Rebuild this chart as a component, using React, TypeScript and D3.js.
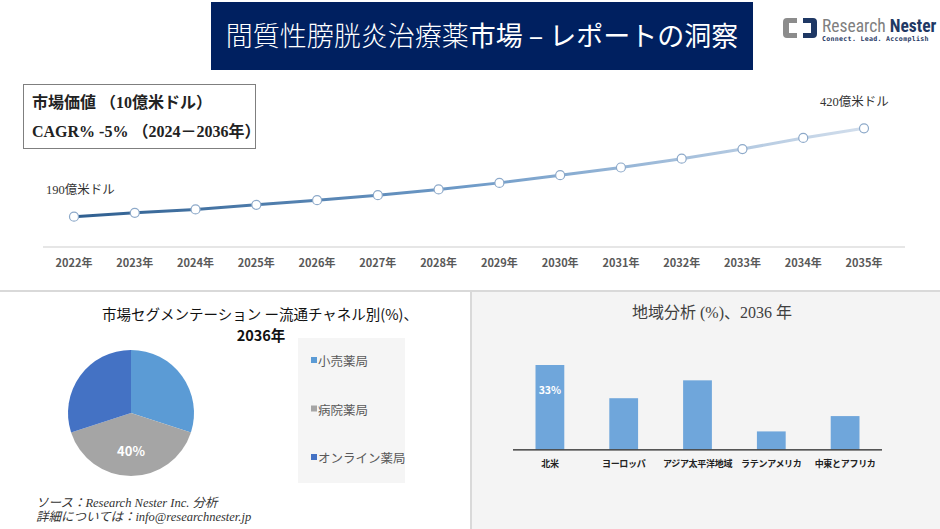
import React from 'react';
import * as d3 from 'd3';

const years = ['2022年','2023年','2024年','2025年','2026年','2027年','2028年','2029年','2030年','2031年','2032年','2033年','2034年','2035年'];
const marketValues = [190, 200, 209, 221, 233, 246, 261, 278, 298, 318, 341, 366, 395, 420];
const channelLabels = ['小売薬局', '病院薬局', 'オンライン薬局'];
const channelShares = [30, 40, 30];
const regions = ['北米', 'ヨーロッパ', 'アジア太平洋地域', 'ラテンアメリカ', '中東とアフリカ'];
const regionShares = [33, 20, 27, 7, 13];

const SANS = "'Noto Sans CJK JP', 'Noto Sans', sans-serif";
const SERIF = "'Liberation Serif', 'DejaVu Serif', 'Noto Sans CJK JP', serif";

export default function App() {
  const W = 940, H = 529;
  // line chart
  const x = d3.scalePoint<string>().domain(years).range([74, 864]);
  const y = d3.scaleLinear().domain([190, 420]).range([216.7, 128.3]);
  const line = d3.line<number>().x((_, i) => x(years[i]) as number).y(d => y(d));
  // pie
  const pieColors = ['#5B9BD5', '#A5A5A5', '#4472C4'];
  const pie = d3.pie<number>().sort(null).value(d => d)(channelShares);
  const arc = d3.arc<d3.PieArcDatum<number>>().innerRadius(0).outerRadius(63);
  const labelArc = d3.arc<d3.PieArcDatum<number>>().innerRadius(38).outerRadius(38);
  // bars
  const xb = d3.scaleBand<string>().domain(regions).range([513, 882]).paddingInner(0.61).paddingOuter(0.305);
  const yb = d3.scaleLinear().domain([0, 33]).range([449.3, 365]);

  return (
    <svg width={W} height={H} style={{ position: 'absolute', left: 0, top: 0, background: '#fff' }}>
      <defs>
        <linearGradient id="lg" gradientUnits="userSpaceOnUse" x1={74} y1={0} x2={864} y2={0}>
          <stop offset="0" stopColor="#2F5F90" />
          <stop offset="0.5" stopColor="#6F9BC8" />
          <stop offset="1" stopColor="#D2DEEC" />
        </linearGradient>
      </defs>
      <rect x={0} y={0} width={W} height={H} fill="#fff" />
      {/* header */}
      <rect x={211} y={2} width={542} height={68} fill="#002060" />
      <text x={482} y={46} textAnchor="middle" fill="#fff" fontSize={27} fontFamily={SANS}>
        <tspan fontFamily={SERIF} fontWeight={300}>間質性膀胱炎治療薬</tspan>
        <tspan>市場 – レポートの洞察</tspan>
      </text>
      {/* logo */}
      <g>
        <path d="M797,18 h-10 a4,4 0 0 0 -4,4 v12 a4,4 0 0 0 4,4 h10 v-5 h-8 v-10 h8 z" fill="#8C8C8C" />
        <path d="M803,18 h10 a4,4 0 0 1 4,4 v12 a4,4 0 0 1 -4,4 h-10 v-5 h8 v-10 h-8 z" fill="#1F3864" />
        <text x={822} y={32} fontSize={17.5} fontFamily="'Roboto Condensed', 'Liberation Sans Narrow', 'Roboto', sans-serif" fill="#7F7F7F">
          Research <tspan fill="#1F3864" fontWeight={700}>Nester</tspan>
        </text>
        <text x={822} y={41} fontSize={6.6} fontFamily="'DejaVu Sans Mono', monospace" fill="#1F3864" fontWeight={700} letterSpacing={0.3}>
          Connect. Lead. Accomplish
        </text>
      </g>
      {/* value box */}
      <rect x={23.5} y={84.5} width={232} height={64} fill="#fff" stroke="#7F7F7F" strokeWidth={1} />
      <text x={32} y={108} fontSize={16} fontWeight={700} fontFamily={SERIF} fill="#222">市場価値 （10億米ドル）</text>
      <text x={32} y={137} fontSize={16} fontWeight={700} fontFamily={SERIF} fill="#222">CAGR% -5% （2024－2036年）</text>
      {/* axis line */}
      <line x1={43} x2={905} y1={247} y2={247} stroke="#E6E6E6" strokeWidth={2} />
      {years.map(yr => (
        <text key={yr} x={x(yr)} y={267} textAnchor="middle" fontSize={11} fontWeight={700} fill="#595959" fontFamily={SANS}>{yr}</text>
      ))}
      <path d={line(marketValues) || ''} fill="none" stroke="url(#lg)" strokeWidth={3} />
      {marketValues.map((v, i) => (
        <circle key={i} cx={x(years[i])} cy={y(v)} r={4.5} fill="#fff" stroke="#8DA9C9" strokeWidth={1.2} />
      ))}
      <text x={46} y={194} fontSize={12.5} fontFamily={SERIF} fill="#333">{marketValues[0]}億米ドル</text>
      <text x={820} y={106} fontSize={12.5} fontFamily={SERIF} fill="#333">{marketValues[marketValues.length - 1]}億米ドル</text>
      {/* bottom panels */}
      <rect x={471} y={291} width={469} height={238} fill="#F4F4F4" />
      <line x1={0} x2={940} y1={291} y2={291} stroke="#D9D9D9" strokeWidth={2} />
      <line x1={471} x2={471} y1={291} y2={529} stroke="#D9D9D9" strokeWidth={2} />
      {/* pie panel */}
      <text x={260} y={320} textAnchor="middle" fontSize={14.5} fontFamily={SANS} fill="#111">市場セグメンテーション ー流通チャネル別(%)、</text>
      <text x={261} y={341} textAnchor="middle" fontSize={14.5} fontWeight={700} fontFamily={SANS} fill="#111">2036年</text>
      <g transform="translate(131,413)">
        {pie.map((p, i) => (
          <path key={i} d={arc(p) || ''} fill={pieColors[i]} />
        ))}
        {pie.map((p, i) => i === 1 ? (
          <text key={'l' + i} x={labelArc.centroid(p)[0]} y={labelArc.centroid(p)[1]} dy={5} textAnchor="middle" fill="#fff" fontSize={13} fontWeight={700} fontFamily={SANS}>{channelShares[i]}%</text>
        ) : null)}
      </g>
      <rect x={298} y={338} width={107} height={145} fill="#F5F5F5" />
      {channelLabels.map((c, i) => (
        <g key={c}>
          <rect x={311} y={358 + i * 48.5 - 1} width={6} height={6} fill={pieColors[i]} />
          <text x={318} y={366 + i * 48.5} fontSize={12.5} fill="#595959" fontFamily={SANS}>{c}</text>
        </g>
      ))}
      <text x={36} y={507} fontSize={12.5} fontStyle="italic" fontFamily={SERIF} fill="#333">ソース：Research Nester Inc. 分析</text>
      <text x={36} y={521} fontSize={12.5} fontStyle="italic" fontFamily={SERIF} fill="#333">詳細については：info@researchnester.jp</text>
      {/* bar panel */}
      <text x={712} y={318} textAnchor="middle" fontSize={16} fontFamily={SERIF} fill="#404040">地域分析 (%)、2036 年</text>
      {regions.map((r, i) => (
        <rect key={r} x={xb(r)} y={yb(regionShares[i])} width={xb.bandwidth()} height={yb(0) - yb(regionShares[i])} fill="#6FA6DB" />
      ))}
      <line x1={513} x2={882} y1={449.8} y2={449.8} stroke="#222" strokeWidth={1.3} />
      <text x={(xb(regions[0]) as number) + xb.bandwidth() / 2} y={394} textAnchor="middle" fill="#fff" fontSize={10.5} fontWeight={700} fontFamily={SANS}>{regionShares[0]}%</text>
      {regions.map(r => (
        <text key={'t' + r} x={(xb(r) as number) + xb.bandwidth() / 2} y={467} textAnchor="middle" fontSize={9} letterSpacing={-0.3} fontWeight={700} fill="#222" fontFamily={SANS}>{r}</text>
      ))}
    </svg>
  );
}
